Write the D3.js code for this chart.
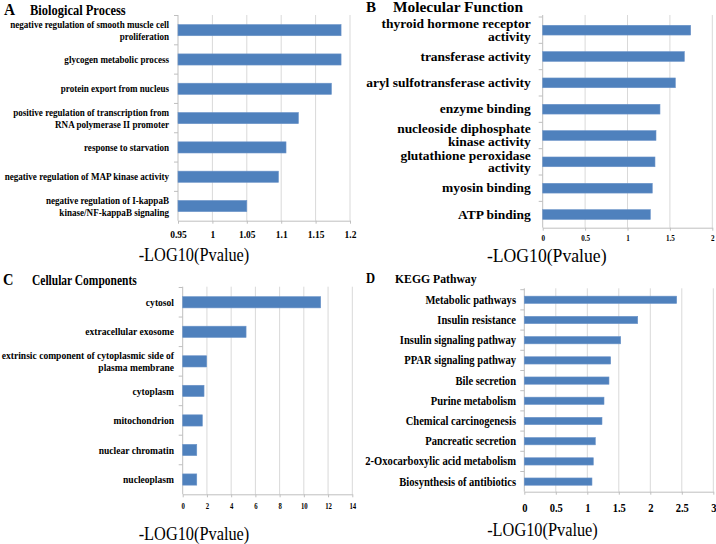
<!DOCTYPE html>
<html><head><meta charset="utf-8">
<script src="https://cdn.jsdelivr.net/npm/d3@7"></script>
<style>
body{margin:0;background:#fff}
svg{display:block}
text{font-family:"Liberation Serif","Times New Roman",serif;fill:#000}
</style>
</head><body>
<svg id="c" width="716" height="544"></svg>
<script>
// ---------- DATA ----------
const bpTerms = [
  "negative regulation of smooth muscle cell\nproliferation",
  "glycogen metabolic process",
  "protein export from nucleus",
  "positive regulation of transcription from\nRNA polymerase II promoter",
  "response to starvation",
  "negative regulation of MAP kinase activity",
  "negative regulation of I-kappaB\nkinase/NF-kappaB signaling"
];
const bpValues = [1.187, 1.187, 1.173, 1.125, 1.107, 1.096, 1.05];
const bpTicks = [0.95, 1, 1.05, 1.1, 1.15, 1.2];

const mfTerms = [
  "thyroid hormone receptor\nactivity",
  "transferase activity",
  "aryl sulfotransferase activity",
  "enzyme binding",
  "nucleoside diphosphate\nkinase activity",
  "glutathione peroxidase\nactivity",
  "myosin binding",
  "ATP binding"
];
const mfValues = [1.745, 1.67, 1.564, 1.383, 1.336, 1.324, 1.292, 1.269];
const mfTicks = [0, 0.5, 1, 1.5, 2];

const ccTerms = [
  "cytosol",
  "extracellular exosome",
  "extrinsic component of cytoplasmic side of\nplasma membrane",
  "cytoplasm",
  "mitochondrion",
  "nuclear chromatin",
  "nucleoplasm"
];
const ccValues = [11.39, 5.23, 1.98, 1.76, 1.62, 1.16, 1.16];
const ccTicks = [0, 2, 4, 6, 8, 10, 12, 14];

const keggTerms = [
  "Metabolic pathways",
  "Insulin resistance",
  "Insulin signaling pathway",
  "PPAR signaling pathway",
  "Bile secretion",
  "Purine metabolism",
  "Chemical carcinogenesis",
  "Pancreatic secretion",
  "2-Oxocarboxylic acid metabolism",
  "Biosynthesis of antibiotics"
];
const keggValues = [2.419, 1.80, 1.53, 1.371, 1.344, 1.265, 1.233, 1.127, 1.095, 1.074];
const keggTicks = [0, 0.5, 1, 1.5, 2, 2.5, 3];

const panelLetters = ["A", "B", "C", "D"];
const panelTitles = ["Biological Process", "Molecular Function", "Cellular Components", "KEGG Pathway"];
const axisTitle = "-LOG10(Pvalue)";

// ---------- DRAW ----------
const svg = d3.select("#c");
const BAR = "#4f81bd", GRID = "#d9d9d9", AXIS = "#bfbfbf";

function drawPanel(p) {
  const g = svg.append("g");
  const dom = [p.ticks[0], p.ticks[p.ticks.length - 1]];
  const x = d3.scaleLinear().domain(dom).range(p.xr);
  const y = d3.scaleBand().domain(p.terms).range(p.yr).paddingInner(p.pad).paddingOuter(p.pad / 2);

  // grid
  g.selectAll("line.grid").data(p.ticks.slice(1)).join("line").attr("class", "grid")
    .attr("x1", d => x(d)).attr("x2", d => x(d))
    .attr("y1", p.gridTop).attr("y2", p.yr[1])
    .attr("stroke", GRID).attr("stroke-width", 1);

  // bottom axis
  const ax = g.append("g").attr("transform", `translate(0,${p.yr[1]})`)
    .call(d3.axisBottom(x).tickValues(p.ticks).tickFormat(d => String(d)).tickSize(3).tickSizeOuter(0));
  ax.select(".domain").attr("stroke", AXIS);
  ax.selectAll(".tick line").attr("stroke", AXIS);
  ax.selectAll(".tick text")
    .attr("y", p.tickY - p.yr[1]).attr("dy", "0.35em")
    .attr("transform", `scale(${p.tickScale},1)`)
    .style("font-size", p.tickSize + "px").style("font-weight", "bold")
    .style("font-family", '"Liberation Serif","Times New Roman",serif').attr("fill", "#000");

  // left axis line + boundary ticks
  const x0 = x(dom[0]);
  g.append("line").attr("x1", x0).attr("x2", x0).attr("y1", p.gridTop).attr("y2", p.yr[1])
    .attr("stroke", AXIS);
  const step = y.step();
  const bounds = p.terms.map(t => y(t) - p.pad * step / 2);
  g.selectAll("line.btick").data(bounds).join("line").attr("class", "btick")
    .attr("x1", x0 - 4).attr("x2", x0).attr("y1", d => d).attr("y2", d => d)
    .attr("stroke", AXIS);

  // bars
  g.selectAll("rect.bar").data(p.terms).join("rect").attr("class", "bar")
    .attr("x", x0).attr("y", d => y(d))
    .attr("width", (d, i) => x(p.values[i]) - x0)
    .attr("height", y.bandwidth())
    .attr("fill", BAR).attr("stroke", "#6b93c8").attr("stroke-width", 0.6);

  // category labels
  const lbl = g.selectAll("text.lbl").data(p.terms).join("text").attr("class", "lbl")
    .attr("transform", d => `translate(${p.labelRight},${y(d) + y.bandwidth() / 2}) scale(${p.labelScale},1)`)
    .attr("text-anchor", "end")
    .style("font-size", p.labelSize + "px").style("font-weight", "bold");
  lbl.each(function(d) {
    const lines = d.split("\n");
    const t = d3.select(this);
    lines.forEach((ln, i) => {
      t.append("tspan").attr("x", 0)
        .attr("y", (i - (lines.length - 1) / 2) * p.lineH + p.labelSize * 0.33)
        .text(ln);
    });
  });

  // panel letter + title
  g.append("text").attr("transform", `translate(${p.letterX},${p.titleY}) scale(${p.letterScale},1)`)
    .style("font-size", p.letterSize + "px").style("font-weight", "bold").text(p.letter);
  g.append("text").attr("transform", `translate(${p.titleX},${p.titleY}) scale(${p.titleScale},1)`)
    .style("font-size", p.titleSize + "px").style("font-weight", "bold").text(p.title);

  // axis title
  g.append("text").attr("transform", `translate(${p.axTitleX},${p.axTitleY}) scale(${p.axTitleScale},1)`)
    .attr("text-anchor", "middle").style("font-size", "19px").text(axisTitle);
}

drawPanel({
  terms: bpTerms, values: bpValues, ticks: bpTicks,
  xr: [178, 350], yr: [15.5, 220.7], gridTop: 15, pad: 0.62,
  labelRight: 169, labelSize: 11, labelScale: 0.825, lineH: 12,
  tickY: 235, tickSize: 10, tickScale: 0.95,
  letter: panelLetters[0], letterX: 4, letterSize: 17, letterScale: 0.9,
  title: panelTitles[0], titleX: 30, titleY: 15, titleSize: 14.5, titleScale: 0.86,
  axTitleX: 194, axTitleY: 261, axTitleScale: 0.86
});
drawPanel({
  terms: mfTerms, values: mfValues, ticks: mfTicks,
  xr: [542.7, 712.3], yr: [17, 227.7], gridTop: 15, pad: 0.63,
  labelRight: 530.7, labelSize: 12.6, labelScale: 1.07, lineH: 12.4,
  tickY: 238, tickSize: 7.5, tickScale: 0.95,
  letter: panelLetters[1], letterX: 366, letterSize: 15, letterScale: 1,
  title: panelTitles[1], titleX: 393, titleY: 11.7, titleSize: 14, titleScale: 1.1,
  axTitleX: 546.7, axTitleY: 262, axTitleScale: 0.93
});
drawPanel({
  terms: ccTerms, values: ccValues, ticks: ccTicks,
  xr: [182.7, 352.3], yr: [287.5, 494.3], gridTop: 286.7, pad: 0.62,
  labelRight: 174, labelSize: 11, labelScale: 0.87, lineH: 12,
  tickY: 506, tickSize: 7.5, tickScale: 0.9,
  letter: panelLetters[2], letterX: 3, letterSize: 17, letterScale: 0.85,
  title: panelTitles[2], titleX: 32, titleY: 285, titleSize: 14, titleScale: 0.82,
  axTitleX: 194, axTitleY: 540, axTitleScale: 0.86
});
drawPanel({
  terms: keggTerms, values: keggValues, ticks: keggTicks,
  xr: [524.3, 713.3], yr: [289.7, 491.7], gridTop: 288.3, pad: 0.64,
  labelRight: 516, labelSize: 12, labelScale: 0.88, lineH: 12,
  tickY: 508, tickSize: 12, tickScale: 0.88,
  letter: panelLetters[3], letterX: 366, letterSize: 14, letterScale: 0.9,
  title: panelTitles[3], titleX: 395, titleY: 282.7, titleSize: 13, titleScale: 0.9,
  axTitleX: 542.5, axTitleY: 536, axTitleScale: 0.86
});
</script>
</body></html>
